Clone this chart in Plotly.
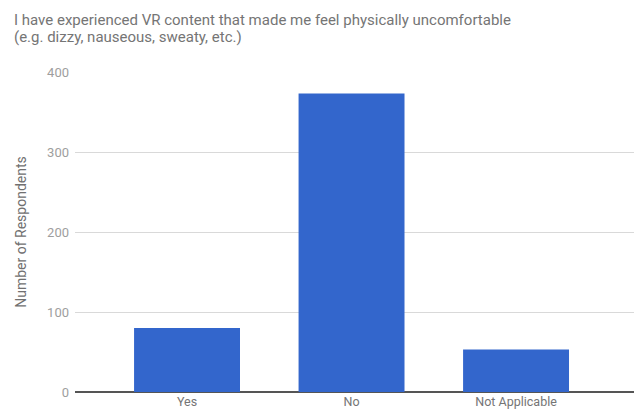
import plotly.graph_objects as go

# Survey responses
categories = ["Yes", "No", "Not Applicable"]
respondents = [80, 373, 53]
y_ticks = [0, 100, 200, 300, 400]

title_lines = [
    "I have experienced VR content that made me feel physically uncomfortable",
    "(e.g. dizzy, nauseous, sweaty, etc.)",
]

# plot area spans pixel rows 72..392
PLOT_TOP, PLOT_BOTTOM = 72, 392


def paper_y(px):
    return (PLOT_BOTTOM - px) / (PLOT_BOTTOM - PLOT_TOP)


fig = go.Figure(
    go.Bar(
        x=categories,
        y=respondents,
        marker=dict(color="#3366cc", line=dict(width=0)),
        hoverinfo="x+y",
    )
)

# two-line heading, placed line by line for tight spacing
for i, line in enumerate(title_lines):
    fig.add_annotation(
        text=line,
        xref="paper",
        yref="paper",
        x=(12 - 75) / (634 - 75),
        y=paper_y(20 + 17 * i),
        xanchor="left",
        yanchor="middle",
        showarrow=False,
        font=dict(size=15, color="#757575", family="Roboto, Arial, sans-serif"),
    )

fig.update_layout(
    width=634,
    height=412,
    margin=dict(l=75, r=0, t=PLOT_TOP, b=412 - PLOT_BOTTOM, autoexpand=False),
    paper_bgcolor="white",
    plot_bgcolor="white",
    bargap=0.356,
    showlegend=False,
    font=dict(family="Roboto, Arial, sans-serif", color="#757575"),
)

fig.update_xaxes(
    range=[-0.681, 2.717],
    automargin=False,
    showgrid=False,
    showline=False,
    zeroline=False,
    ticks="",
    ticklabelstandoff=0,
    tickfont=dict(size=12.5, color="#757575"),
    fixedrange=True,
)

fig.update_yaxes(
    range=[0, 400],
    automargin=False,
    tickvals=y_ticks,
    ticktext=[str(v) for v in y_ticks],
    showgrid=True,
    gridcolor="#d9d9d9",
    gridwidth=1,
    zeroline=True,
    zerolinecolor="#555555",
    zerolinewidth=1.5,
    showline=False,
    ticks="",
    ticklabelstandoff=5,
    tickfont=dict(size=13, color="#9e9e9e"),
    title=dict(text="Number of Respondents", font=dict(size=14, color="#707070"), standoff=17),
    fixedrange=True,
)

fig.write_html("out.html")
